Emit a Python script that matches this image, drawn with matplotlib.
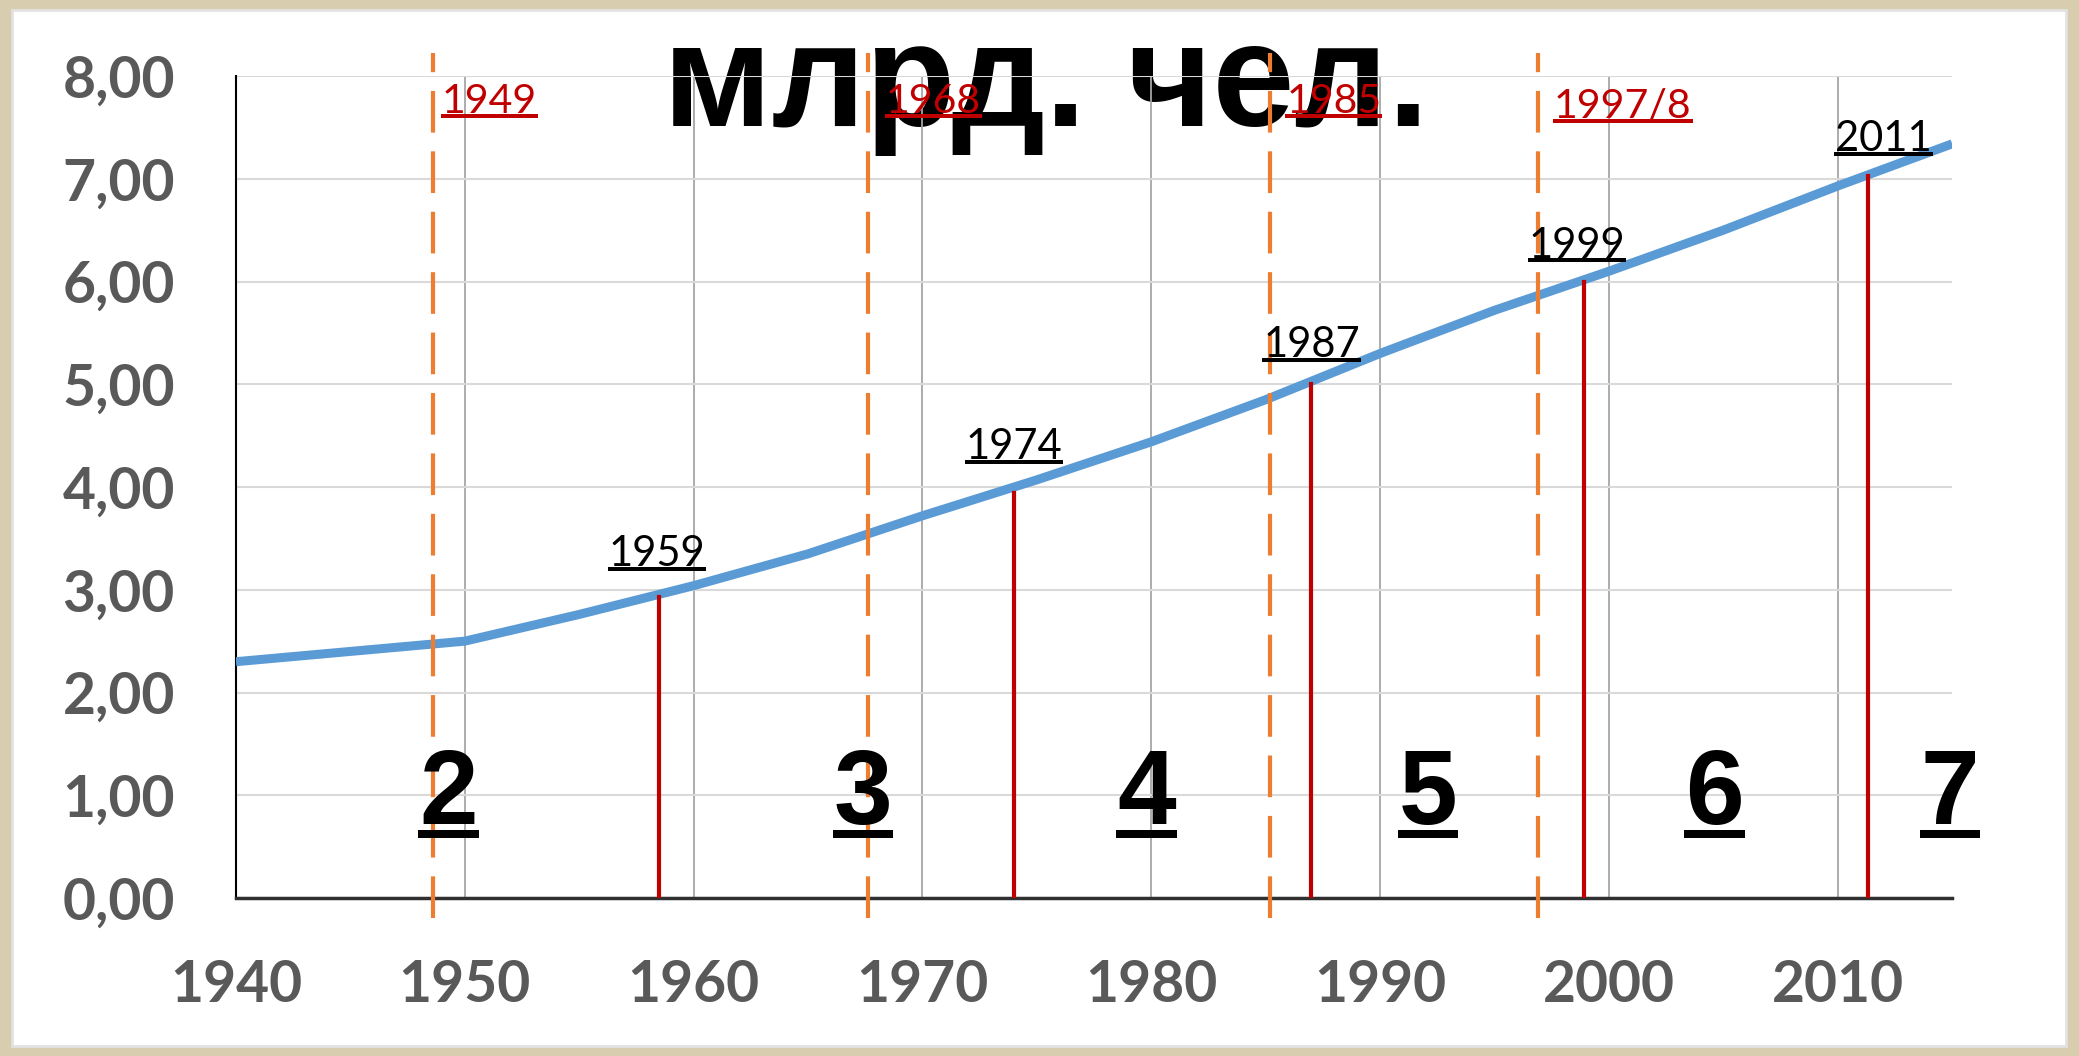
import matplotlib
matplotlib.use("Agg")
import matplotlib.pyplot as plt
from matplotlib.lines import Line2D
from matplotlib.patches import Rectangle

# world population, billions
years = [1940, 1945, 1950, 1955, 1960, 1965, 1970, 1975, 1980, 1985, 1990, 1995, 2000, 2005, 2010, 2015]
population = [2.30, 2.40, 2.50, 2.76, 3.04, 3.35, 3.72, 4.07, 4.44, 4.85, 5.30, 5.72, 6.10, 6.50, 6.93, 7.34]

# each extra billion reached
billion_years = [1958.5, 1974.0, 1987.0, 1998.9, 2011.3]
billion_values = [2.93, 3.94, 5.00, 6.00, 7.03]
billion_labels = ["1959", "1974", "1987", "1999", "2011"]

# dashed boundaries
boundary_years = [1948.6, 1967.6, 1985.2, 1996.9]
boundary_labels = ["1949", "1968", "1985", "1997/8"]

period_labels = ["2", "3", "4", "5", "6", "7"]

y_ticks = [0, 1, 2, 3, 4, 5, 6, 7, 8]
x_ticks = [1940, 1950, 1960, 1970, 1980, 1990, 2000, 2010]

BLUE = "#5B9BD5"
DARKRED = "#C00000"
ORANGE = "#ED7D31"
TICK = "#595959"
NARROW = ["Liberation Sans Narrow", "Liberation Sans"]

fig = plt.figure(figsize=(20.79, 10.56), dpi=100, facecolor="#d9cdb0")
fig.add_artist(Rectangle((12, 10), 2079 - 25, 1056 - 20, transform=None,
                         facecolor="white", edgecolor="#e2e2e2", lw=2, zorder=-5))
ax = fig.add_axes([0.1135, 0.1496, 0.8255, 0.7784])
ax.set_facecolor("none")
ax.set_xlim(1940, 2015)
ax.set_ylim(0, 8)

ax.set_yticks(y_ticks)
ax.set_yticklabels([f"{v:.2f}".replace(".", ",") for v in y_ticks])
ax.set_xticks(x_ticks)
ax.set_xticklabels([str(v) for v in x_ticks])
for lab in ax.get_xticklabels() + ax.get_yticklabels():
    lab.set_fontfamily("Lato")
    lab.set_fontweight("bold")
    lab.set_fontsize(41)
    lab.set_color(TICK)
ax.tick_params(axis="y", length=0, pad=44)
ax.tick_params(axis="x", length=0, pad=44)

ax.grid(axis="y", color="#d9d9d9", lw=1.5, zorder=0)
ax.grid(axis="x", color="#a6a6a6", lw=1.3, zorder=0)
for s in ("top", "right"):
    ax.spines[s].set_visible(False)
ax.spines["left"].set_color("black")
ax.spines["bottom"].set_color("#303030")
ax.spines["left"].set_linewidth(1.5)
ax.spines["bottom"].set_linewidth(2.5)

ax.plot(years, population, color=BLUE, lw=6.5, solid_capstyle="butt", zorder=3)

for x, v in zip(billion_years, billion_values):
    ax.plot([x, x], [0, v], color=DARKRED, lw=3, zorder=4)

for x in boundary_years:
    ax.plot([x, x], [-0.19, 8.22], color=ORANGE, lw=3, dashes=(10, 4.5),
            clip_on=False, zorder=5)

# title sits behind the chart marks
ax.text(0.503, 0.881, "млрд. чел.", transform=fig.transFigure, ha="center", va="baseline",
        fontsize=106, fontweight="bold", family="Liberation Sans", color="black",
        zorder=1, clip_on=False)

underlined = []  # (text, linewidth px, color, gap px)

red_pos = [(1949.0, 7.75), (1968.4, 7.75), (1985.9, 7.75), (1997.6, 7.70)]
for lbl, (x, y) in zip(boundary_labels, red_pos):
    t = ax.text(x, y, lbl, ha="left", va="center", fontsize=29.5, family="Lato",
                color=DARKRED, zorder=6, clip_on=False)
    underlined.append((t, 4, DARKRED, 2))

black_pos = [(1958.4, 3.35), (1974.0, 4.39), (1987.0, 5.38), (1998.6, 6.35), (2012.0, 7.39)]
for lbl, (x, y) in zip(billion_labels, black_pos):
    t = ax.text(x, y, lbl, ha="center", va="center", fontsize=30, family="Lato",
                color="black", zorder=6, clip_on=False)
    underlined.append((t, 4, "black", 2))

period_x = [1949.3, 1967.4, 1979.8, 1992.1, 2004.6, 2014.9]
for lbl, x in zip(period_labels, period_x):
    t = ax.text(x, 0.99, lbl, ha="center", va="center", fontsize=76, fontweight="bold",
                family=NARROW, color="black", zorder=6, clip_on=False)
    underlined.append((t, 8, "black", 4))

fig.canvas.draw()
r = fig.canvas.get_renderer()
for t, w, c, gap in underlined:
    bb = t.get_window_extent(r)
    y = bb.y0 + (bb.height * 0.16) - gap
    fig.add_artist(Line2D([bb.x0 - 1, bb.x1 + 1], [y, y], transform=None, color=c,
                          lw=w * 72 / 100, solid_capstyle="butt", zorder=7))

fig.savefig("out.png", dpi=100, facecolor=fig.get_facecolor())
